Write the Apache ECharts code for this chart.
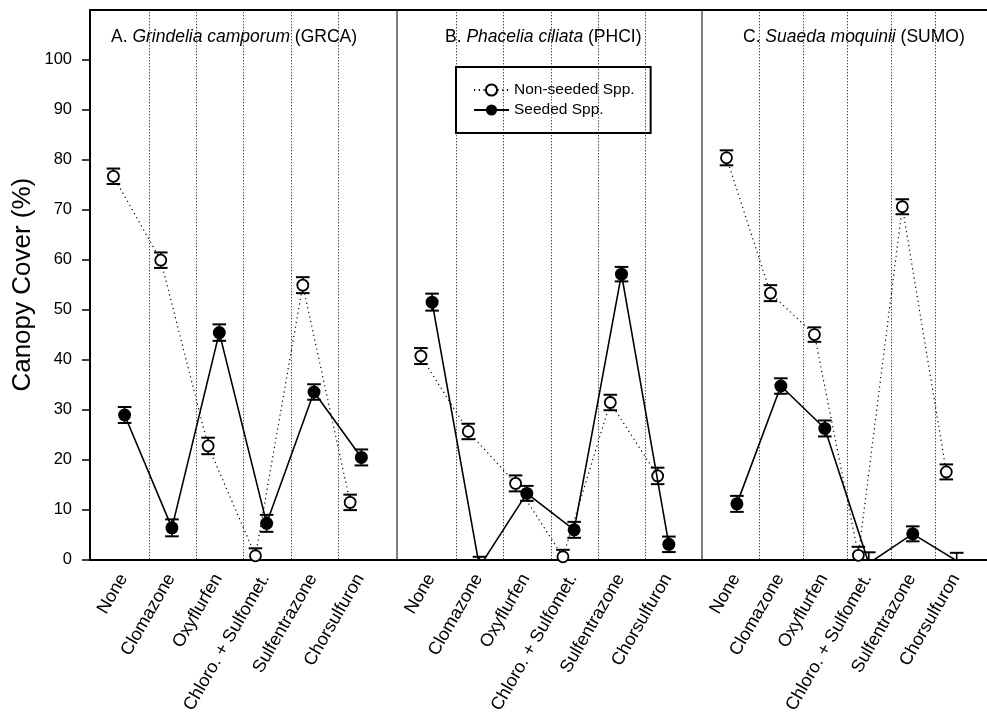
<!DOCTYPE html>
<html><head><meta charset="utf-8">
<script src="https://cdn.jsdelivr.net/npm/echarts@6/dist/echarts.min.js"></script>
<style>html,body{margin:0;padding:0;background:#fff}#c{width:987px;height:719px}</style>
</head><body><div id="c"></div>
<script>
// ---------- data ----------
const categories = ['None', 'Clomazone', 'Oxyflurfen', 'Chloro. + Sulfomet.', 'Sulfentrazone', 'Chorsulfuron'];
const yTicks = [0, 10, 20, 30, 40, 50, 60, 70, 80, 90, 100];
const seriesNames = ['Non-seeded Spp.', 'Seeded Spp.'];
const titleA = ['A. ', 'Grindelia camporum', ' (GRCA)'];
const titleB = ['B. ', 'Phacelia ciliata', ' (PHCI)'];
const titleC = ['C. ', 'Suaeda moquinii', ' (SUMO)'];

const nonSeededA = [76.7, 59.9, 22.7, 0.7, 54.9, 11.4];
const nonSeededA_se = [1.55, 1.55, 1.65, 1.5, 1.6, 1.55];
const seededA = [28.9, 6.3, 45.4, 7.2, 33.5, 20.4];
const seededA_se = [1.6, 1.7, 1.65, 1.7, 1.55, 1.6];

const nonSeededB = [40.7, 25.6, 15.2, 0.5, 31.4, 16.7];
const nonSeededB_se = [1.6, 1.55, 1.6, 1.4, 1.55, 1.65];
const seededB = [51.5, -1.5, 13.2, 5.9, 57.1, 3.0];
const seededB_se = [1.7, 2.0, 1.5, 1.6, 1.45, 1.55];

const nonSeededC = [80.4, 53.3, 45.0, 0.8, 70.6, 17.5];
const nonSeededC_se = [1.5, 1.6, 1.45, 1.7, 1.5, 1.5];
const seededC = [11.1, 34.7, 26.2, -0.8, 5.1, -0.3];
const seededC_se = [1.6, 1.55, 1.6, 2.2, 1.5, 1.6];

// ---------- layout ----------
const FONT = "'Liberation Sans', Arial, Helvetica, sans-serif";
const panels = [
  {title: titleA, non: nonSeededA, nonSe: nonSeededA_se, seed: seededA, seedSe: seededA_se},
  {title: titleB, non: nonSeededB, nonSe: nonSeededB_se, seed: seededB, seedSe: seededB_se},
  {title: titleC, non: nonSeededC, nonSe: nonSeededC_se, seed: seededC, seedSe: seededC_se}
];
const panelLeft = [90, 397, 702];
const panelWidth = [307, 305, 307];
const firstOffsetPx = [29, 29.5, 32];
const titleLeft = [111, 445, 743];
const unitPx = 47.35;
const gridTop = 10, gridH = 549.3;
const shift = 5.6 / unitPx;

const grid = [], xAxis = [], yAxis = [], series = [], title = [];

function renderErr(params, api) {
  const x = api.value(0), lo = api.value(1), hi = api.value(2);
  if (hi < 0) return null;
  const capHalf = 6.8;
  const pTop = api.coord([x, hi]);
  const pBot = api.coord([x, Math.max(lo, 0)]);
  const st = {stroke: '#000', lineWidth: 1.6};
  const children = [
    {type: 'line', shape: {x1: pTop[0], y1: pTop[1], x2: pBot[0], y2: pBot[1]}, style: st},
    {type: 'line', shape: {x1: pTop[0] - capHalf, y1: pTop[1], x2: pTop[0] + capHalf, y2: pTop[1]}, style: {stroke: '#000', lineWidth: 2}}
  ];
  if (lo >= 0) {
    children.push({type: 'line', shape: {x1: pBot[0] - capHalf, y1: pBot[1], x2: pBot[0] + capHalf, y2: pBot[1]}, style: {stroke: '#000', lineWidth: 2}});
  }
  return {type: 'group', children};
}

panels.forEach((p, k) => {
  const xMin = 1 - firstOffsetPx[k] / unitPx;
  const xMax = xMin + panelWidth[k] / unitPx;
  grid.push({left: panelLeft[k], top: gridTop, width: panelWidth[k], height: gridH, containLabel: false});
  // bottom category axis
  xAxis.push({
    type: 'value', gridIndex: k, position: 'bottom', min: xMin, max: xMax,
    axisLine: {show: true, onZero: false, lineStyle: {color: '#000', width: 2}},
    axisTick: {show: false},
    splitLine: {show: false},
    axisLabel: {
      show: true, rotate: 60, margin: 16, fontSize: 18, fontFamily: FONT, color: '#000',
      customValues: categories.map((c, i) => i + 1 + 4.5 / unitPx),
      formatter: v => categories[Math.round(v) - 1] || ''
    }
  });
  // top border
  xAxis.push({
    type: 'value', gridIndex: k, position: 'top', min: xMin, max: xMax,
    axisLine: {show: true, onZero: false, lineStyle: {color: '#000', width: 2}},
    axisTick: {show: false}, axisLabel: {show: false}, splitLine: {show: false}
  });
  if (k === 0) {
    yAxis.push({
      type: 'value', gridIndex: 0, min: 0, max: 110,
      name: 'Canopy Cover (%)', nameLocation: 'middle', nameGap: 54, nameRotate: 90,
      nameTextStyle: {fontSize: 26, fontFamily: FONT, color: '#000'},
      axisLine: {show: true, onZero: false, lineStyle: {color: '#000', width: 2}},
      axisTick: {show: true, length: 8, customValues: yTicks, lineStyle: {color: '#000', width: 1.5}},
      axisLabel: {show: true, customValues: yTicks, fontSize: 16.5, fontFamily: FONT, color: '#000', margin: 18},
      splitLine: {show: false}
    });
  } else {
    yAxis.push({
      type: 'value', gridIndex: k, min: 0, max: 110,
      axisLine: {show: true, onZero: false, lineStyle: {color: '#555', width: 1.5}},
      axisTick: {show: false}, axisLabel: {show: false}, splitLine: {show: false}
    });
  }
  const xIdx = k * 2;
  const dividers = [1, 2, 3, 4, 5].map(v => ({xAxis: v + 30 / unitPx}));
  const nonPts = p.non.map((v, i) => [i + 1 - shift, v]);
  const seedPts = p.seed.map((v, i) => [i + 1 + shift, v]);
  series.push({
    type: 'custom', xAxisIndex: xIdx, yAxisIndex: k, z: 1, silent: true,
    renderItem: renderErr, encode: {x: 0, y: [1, 2]}, clip: false,
    data: p.non.map((v, i) => [i + 1 - shift, v - p.nonSe[i], v + p.nonSe[i]])
      .concat(p.seed.map((v, i) => [i + 1 + shift, v - p.seedSe[i], v + p.seedSe[i]])),
    markLine: {
      silent: true, symbol: 'none', label: {show: false},
      lineStyle: {type: [1, 2], color: '#000', width: 1},
      data: dividers
    }
  });
  series.push({
    type: 'line', name: seriesNames[0], xAxisIndex: xIdx, yAxisIndex: k, z: 3,
    symbol: 'circle', symbolSize: 11,
    itemStyle: {color: '#fff', borderColor: '#000', borderWidth: 1.8},
    lineStyle: {color: '#000', width: 1.2, type: [1.2, 3.5]},
    data: nonPts
  });
  series.push({
    type: 'line', name: seriesNames[1], xAxisIndex: xIdx, yAxisIndex: k, z: 4,
    symbol: 'circle', symbolSize: 13,
    itemStyle: {color: '#000', borderColor: '#000', borderWidth: 0},
    lineStyle: {color: '#000', width: 1.6},
    data: seedPts
  });
  title.push({
    left: titleLeft[k], top: 28, padding: 0,
    text: '{n|' + p.title[0] + '}{i|' + p.title[1] + '}{n|' + p.title[2] + '}',
    textStyle: {
      fontWeight: 'normal', fontSize: 17.5, fontFamily: FONT, color: '#000',
      rich: {
        n: {fontSize: 17.5, fontFamily: FONT, fontWeight: 'normal', color: '#000'},
        i: {fontSize: 17.5, fontFamily: FONT, fontWeight: 'normal', fontStyle: 'italic', color: '#000'}
      }
    }
  });
});

const chart = echarts.init(document.getElementById('c'), null, {renderer: 'canvas'});
chart.setOption({
  animation: false,
  backgroundColor: '#fff',
  title,
  grid, xAxis, yAxis, series,
  legend: {
    data: seriesNames, orient: 'vertical', left: 456, top: 67,
    itemWidth: 35, itemHeight: 14, itemGap: 4,
    padding: [15, 16, 15, 17],
    borderColor: '#000', borderWidth: 2, backgroundColor: '#fff',
    textStyle: {fontSize: 15.5, fontFamily: FONT, color: '#000'}
  }
});
</script>
</body></html>
